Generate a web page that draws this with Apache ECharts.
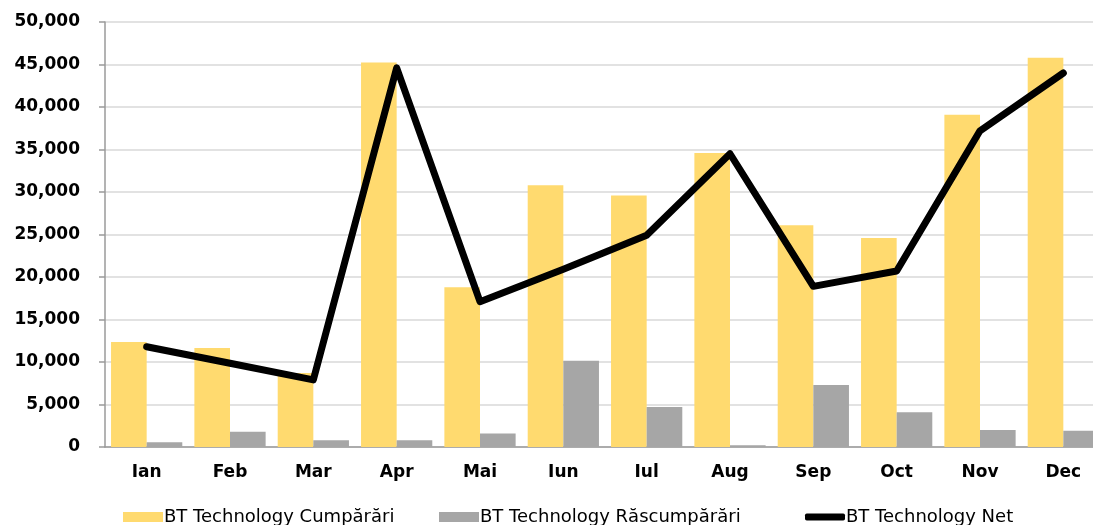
<!DOCTYPE html>
<html>
<head>
<meta charset="utf-8">
<script src="https://cdn.jsdelivr.net/npm/echarts@6/dist/echarts.min.js"></script>
<style>
  html, body { margin: 0; padding: 0; background: #fff; }
  #chart { width: 1093px; height: 525px; }
</style>
</head>
<body>
<div id="chart"></div>
<script>
var months = ['Ian', 'Feb', 'Mar', 'Apr', 'Mai', 'Iun', 'Iul', 'Aug', 'Sep', 'Oct', 'Nov', 'Dec'];
var cumparari = [12350, 11650, 8700, 45250, 18800, 30800, 29600, 34600, 26100, 24600, 39100, 45800];
var rascumparari = [550, 1800, 800, 800, 1600, 10150, 4700, 200, 7300, 4100, 2000, 1900];
var net = [11800, 9850, 7900, 44600, 17100, 20900, 24900, 34500, 18900, 20700, 37200, 44000];

var names = ['BT Technology Cumpărări', 'BT Technology Răscumpărări', 'BT Technology Net'];
var font = '"DejaVu Sans", sans-serif';

var chart = echarts.init(document.getElementById('chart'));

function legendAt(name, x, icon, h) {
    return {
        data: [name],
        left: x,
        top: 503,
        itemWidth: 40,
        itemHeight: h,
        icon: icon,
        selectedMode: false,
        textStyle: { fontFamily: font, fontSize: 18, color: '#000', padding: [0, 0, 0, -4] }
    };
}

chart.setOption({
    animation: false,
    // plot runs past the right edge of the picture, Dec is cut off
    grid: { left: 105, width: 1000, top: 22, bottom: 78, outerBoundsMode: 'none', containLabel: false },
    legend: [
        legendAt(names[0], 118, 'rect', 10),
        legendAt(names[1], 434, 'rect', 10),
        legendAt(names[2], 800, 'roundRect', 7)
    ],
    xAxis: {
        type: 'category',
        data: months,
        axisLine: { lineStyle: { color: '#9a9a9a', width: 1.5 } },
        axisTick: { length: 6, lineStyle: { color: '#9a9a9a', width: 1.5 } },
        axisLabel: { margin: 17, fontFamily: font, fontSize: 17, fontWeight: 'bold', color: '#000' }
    },
    yAxis: {
        type: 'value',
        min: 0,
        max: 50000,
        interval: 5000,
        axisLine: { show: true, lineStyle: { color: '#9a9a9a', width: 1.5 } },
        axisTick: { show: true, length: 6, lineStyle: { color: '#9a9a9a', width: 1.5 } },
        splitLine: { lineStyle: { color: '#d9d9d9', width: 1.5 } },
        axisLabel: {
            margin: 25,
            fontFamily: font, fontSize: 17, fontWeight: 'bold', color: '#000',
            formatter: function (v) { return v.toLocaleString('en-US'); }
        }
    },
    series: [
        {
            name: names[0], type: 'bar', data: cumparari,
            barGap: '0%', barCategoryGap: '14.5%',
            itemStyle: { color: '#ffda6f' }
        },
        {
            name: names[1], type: 'bar', data: rascumparari,
            barGap: '0%', barCategoryGap: '14.5%',
            itemStyle: { color: '#a6a6a6' }
        },
        {
            name: names[2], type: 'line', data: net,
            symbol: 'none',
            lineStyle: { color: '#000', width: 7, cap: 'round', join: 'round' },
            itemStyle: { color: '#000' }
        }
    ]
});
</script>
</body>
</html>
